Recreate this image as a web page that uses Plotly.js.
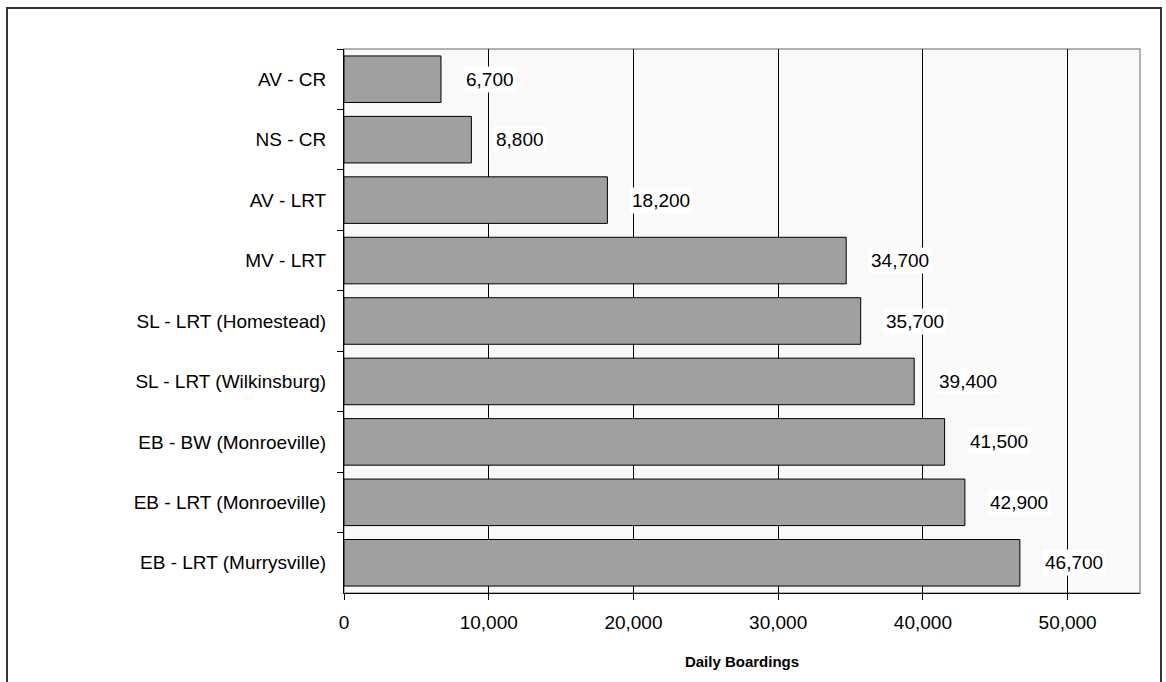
<!DOCTYPE html>
<html>
<head>
<meta charset="utf-8">
<script src="https://cdn.plot.ly/plotly-3.0.1.min.js"></script>
<style>
html,body{margin:0;padding:0;background:#fff;}
#chart{width:1166px;height:682px;}
#frame{position:absolute;left:6px;top:7px;width:1152px;height:690px;border:2px solid #333;pointer-events:none;}
</style>
</head>
<body>
<div id="chart"></div>
<div id="frame"></div>
<script>
const categories = [
  "AV - CR",
  "NS - CR",
  "AV - LRT",
  "MV - LRT",
  "SL - LRT (Homestead)",
  "SL - LRT (Wilkinsburg)",
  "EB - BW (Monroeville)",
  "EB - LRT (Monroeville)",
  "EB - LRT (Murrysville)"
];
const boardings = [6700, 8800, 18200, 34700, 35700, 39400, 41500, 42900, 46700];
const xTickValues = [0, 10000, 20000, 30000, 40000, 50000];
const xTickLabels = ["0", "10,000", "20,000", "30,000", "40,000", "50,000"];

const fmt = v => v.toLocaleString("en-US");
const FONT = "Liberation Sans, Arial, sans-serif";

const trace = {
  type: "bar",
  orientation: "h",
  y: categories,
  x: boardings,
  width: 0.77,
  marker: {color: "#a0a0a0", line: {color: "#000", width: 1}},
  hoverinfo: "none"
};

const annotations = categories.map((c, i) => ({
  x: boardings[i],
  y: c,
  xref: "x",
  yref: "y",
  text: fmt(boardings[i]),
  showarrow: false,
  xanchor: "left",
  xshift: 22,
  bgcolor: "#ffffff",
  borderpad: 2,
  font: {family: FONT, size: 19, color: "#000"}
}));

const layout = {
  width: 1166,
  height: 682,
  margin: {l: 344, r: 26, t: 49, b: 89},
  paper_bgcolor: "#ffffff",
  plot_bgcolor: "#f9f9f9",
  showlegend: false,
  font: {family: FONT, size: 19, color: "#000"},
  xaxis: {
    range: [0, 55000],
    tickvals: xTickValues,
    ticktext: xTickLabels,
    showgrid: true,
    gridcolor: "#000",
    gridwidth: 1,
    zeroline: false,
    showline: true,
    linecolor: "#000",
    linewidth: 1,
    ticks: "outside",
    ticklen: 6,
    tickcolor: "#000",
    tickfont: {size: 19},
    ticklabelstandoff: 6,
    title: {text: "Daily Boardings", font: {size: 15, weight: "bold"}, standoff: 24}
  },
  yaxis: {
    type: "category",
    autorange: "reversed",
    showgrid: false,
    showline: true,
    linecolor: "#000",
    linewidth: 1,
    ticks: "outside",
    tickson: "boundaries",
    ticklen: 6,
    tickcolor: "#000",
    tickfont: {size: 19},
    ticklabelstandoff: 13
  },
  shapes: [{
    type: "rect", xref: "paper", yref: "paper",
    x0: 0, x1: 1, y0: 0, y1: 1,
    line: {color: "#999", width: 1.5},
    layer: "below"
  }],
  annotations: annotations
};

Plotly.newPlot("chart", [trace], layout, {displayModeBar: false, staticPlot: true});
</script>
</body>
</html>
